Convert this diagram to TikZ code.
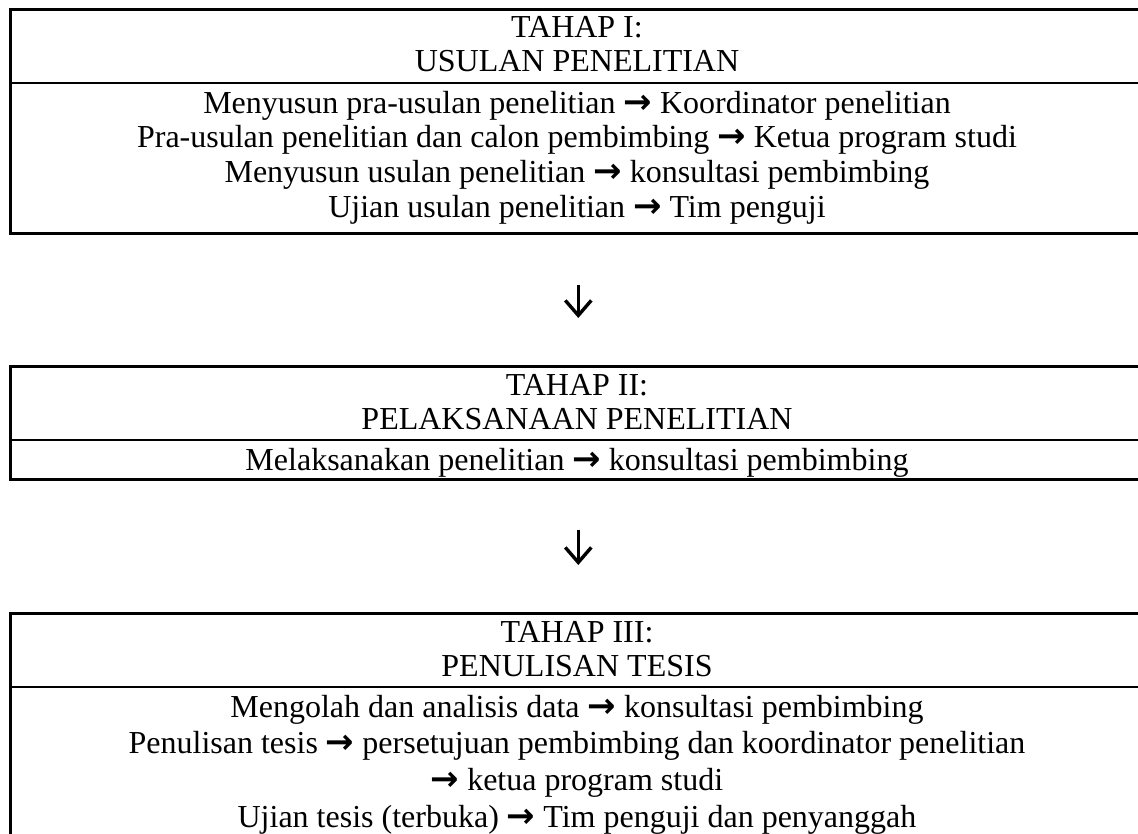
\documentclass[tikz,border=0pt]{standalone}
\usepackage{fontspec}
\setmainfont{Liberation Serif}
\newfontfamily\arrfont{DejaVu Sans}
\usetikzlibrary{arrows.meta}
\newcommand{\myra}{{\arrfont\bfseries\fontsize{34}{35}\selectfont →}}
\begin{document}
\begin{tikzpicture}[x=1pt,y=-1pt,
  txt/.style={anchor=base, inner sep=0pt, font=\fontsize{32}{35}\selectfont},
  frame/.style={draw, line width=2.6pt, inner sep=0pt, anchor=north west, minimum width=1136pt},
  divider/.style={line width=2.6pt},
  flow/.style={line width=3pt, -{Straight Barb[length=15pt,width=26pt,line width=3.4pt]}}]
\useasboundingbox (0,0) rectangle (1138,833);
% boxes
\node[frame, minimum height=224pt] (box1) at (9,8) {};
\node[frame, minimum height=113pt] (box2) at (9,365) {};
\node[frame, minimum height=240pt] (box3) at (9,612) {};
\coordinate (d1w) at (9,83);   \coordinate (d1e) at (1145,83);
\coordinate (d2w) at (9,440);  \coordinate (d2e) at (1145,440);
\coordinate (d3w) at (9,687);  \coordinate (d3e) at (1145,687);
\draw[divider] (d1w) -- (d1e);
\draw[divider] (d2w) -- (d2e);
\draw[divider] (d3w) -- (d3e);
% box 1 text
\node[txt] (h1a) at (577,37) {TAHAP I:};
\node[txt] (h1b) at (577,71) {USULAN PENELITIAN};
\node[txt] (b1a) at (577,113) {Menyusun pra-usulan penelitian \myra\ Koordinator penelitian};
\node[txt] (b1b) at (577,147) {Pra-usulan penelitian dan calon pembimbing \myra\ Ketua program studi};
\node[txt] (b1c) at (577,182) {Menyusun usulan penelitian \myra\ konsultasi pembimbing};
\node[txt] (b1d) at (577,217) {Ujian usulan penelitian \myra\ Tim penguji};
% box 2 text
\node[txt] (h2a) at (577,395) {TAHAP II:};
\node[txt] (h2b) at (577,429) {PELAKSANAAN PENELITIAN};
\node[txt] (b2a) at (577,470) {Melaksanakan penelitian \myra\ konsultasi pembimbing};
% box 3 text
\node[txt] (h3a) at (577,642) {TAHAP III:};
\node[txt] (h3b) at (577,676) {PENULISAN TESIS};
\node[txt] (b3a) at (577,717) {Mengolah dan analisis data \myra\ konsultasi pembimbing};
\node[txt] (b3b) at (577,753) {Penulisan tesis \myra\ persetujuan pembimbing dan koordinator penelitian};
\node[txt] (b3c) at (577,790) {\myra\ ketua program studi};
\node[txt] (b3d) at (577,827) {Ujian tesis (terbuka) \myra\ Tim penguji dan penyanggah};
% arrows between stages
\draw[flow, shorten <=50pt, shorten >=47pt] (box1.south) -- (box2.north);
\draw[flow, shorten <=49pt, shorten >=47pt] (box2.south) -- (box3.north);
\end{tikzpicture}
\end{document}
